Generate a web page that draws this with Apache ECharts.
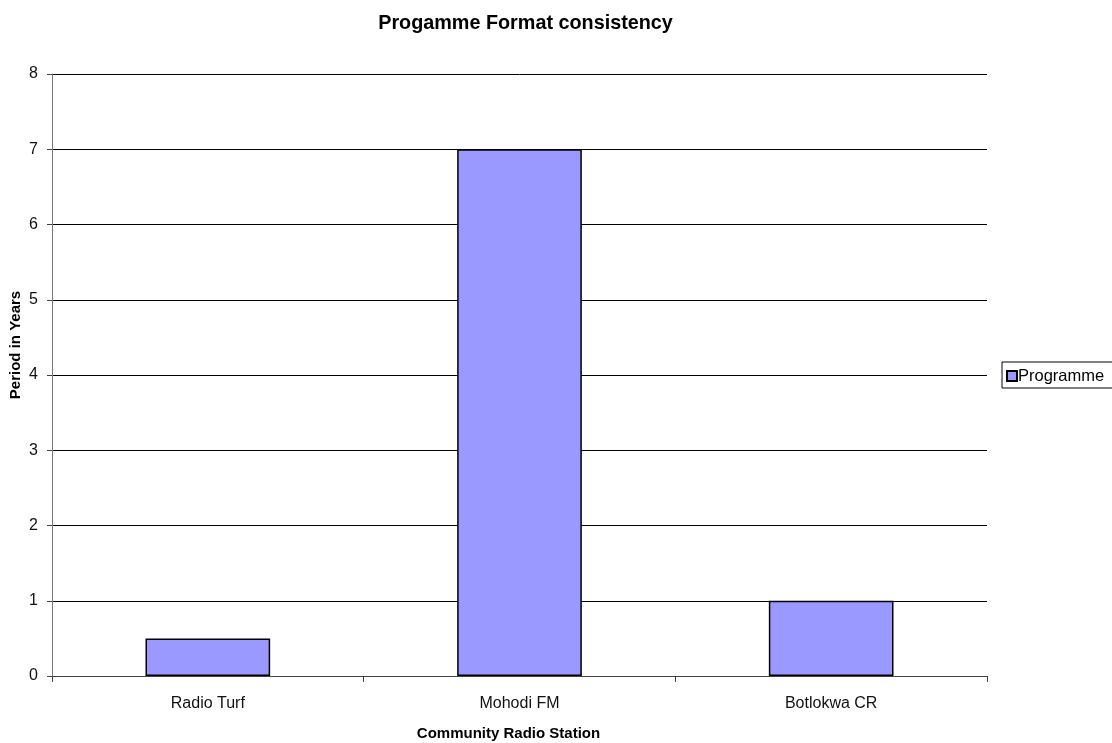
<!DOCTYPE html>
<html>
<head>
<meta charset="utf-8">
<script src="https://cdn.jsdelivr.net/npm/echarts@6/dist/echarts.min.js"></script>
<style>html,body{margin:0;padding:0;background:#fff;overflow:hidden}#c{width:1112px;height:743px}</style>
</head>
<body>
<div id="c"></div>
<script>
const categories = ["Radio Turf", "Mohodi FM", "Botlokwa CR"];
const programmeValues = [0.5, 7, 1];
const seriesName = "Programme";
const yTicks = [0, 1, 2, 3, 4, 5, 6, 7, 8];

const chart = echarts.init(document.getElementById('c'), null, {renderer: 'canvas'});
const font = '"Liberation Sans", Arial, sans-serif';
chart.setOption({
  animation: false,
  backgroundColor: '#fff',
  title: {
    text: 'Progamme Format consistency',
    left: 520.5, top: 9, textAlign: 'center',
    textStyle: {fontFamily: font, fontSize: 19.8, fontWeight: 'bold', color: '#000'}
  },
  legend: {
    data: [seriesName],
    left: 1002, top: 362,
    orient: 'vertical',
    itemWidth: 10, itemHeight: 10,
    itemGap: 0,
    padding: [2, 40, 0, 4],
    borderColor: '#000', borderWidth: 1,
    icon: 'rect',
    textStyle: {fontFamily: font, fontSize: 16.5, color: '#000', padding: [7, 0, 0, -4], lineHeight: 17}
  },
  grid: {left: 52, right: 125, top: 74, bottom: 67, outerBoundsMode: 'none', containLabel: false},
  xAxis: {
    type: 'category',
    data: categories,
    name: 'Community Radio Station',
    nameLocation: 'middle',
    nameGap: 50,
    nameTextStyle: {fontFamily: font, fontSize: 15, fontWeight: 'bold', color: '#000', padding: [0, 22, 0, 0]},
    axisLine: {lineStyle: {color: '#444', width: 1}},
    axisTick: {show: true, alignWithLabel: false, length: 6, lineStyle: {color: '#444'}},
    axisLabel: {fontFamily: font, fontSize: 16, color: '#111', margin: 20}
  },
  yAxis: {
    type: 'value',
    min: yTicks[0], max: yTicks[yTicks.length - 1], interval: 1,
    name: 'Period in Years',
    nameLocation: 'middle',
    nameGap: 29,
    nameMoveOverlap: false,
    nameTextStyle: {fontFamily: font, fontSize: 15, fontWeight: 'bold', color: '#000', padding: [0, 0, 0, 60]},
    axisLine: {show: true, lineStyle: {color: '#777', width: 1}},
    axisTick: {show: true, length: 5, lineStyle: {color: '#444'}},
    axisLabel: {fontFamily: font, fontSize: 16, color: '#111', margin: 14},
    splitLine: {show: true, lineStyle: {color: '#000', width: 1}}
  },
  series: [{
    name: seriesName,
    type: 'bar',
    data: programmeValues,
    barWidth: '40%',
    itemStyle: {color: '#9999ff', borderColor: '#000', borderWidth: 1.5}
  }]
});
</script>
</body>
</html>
